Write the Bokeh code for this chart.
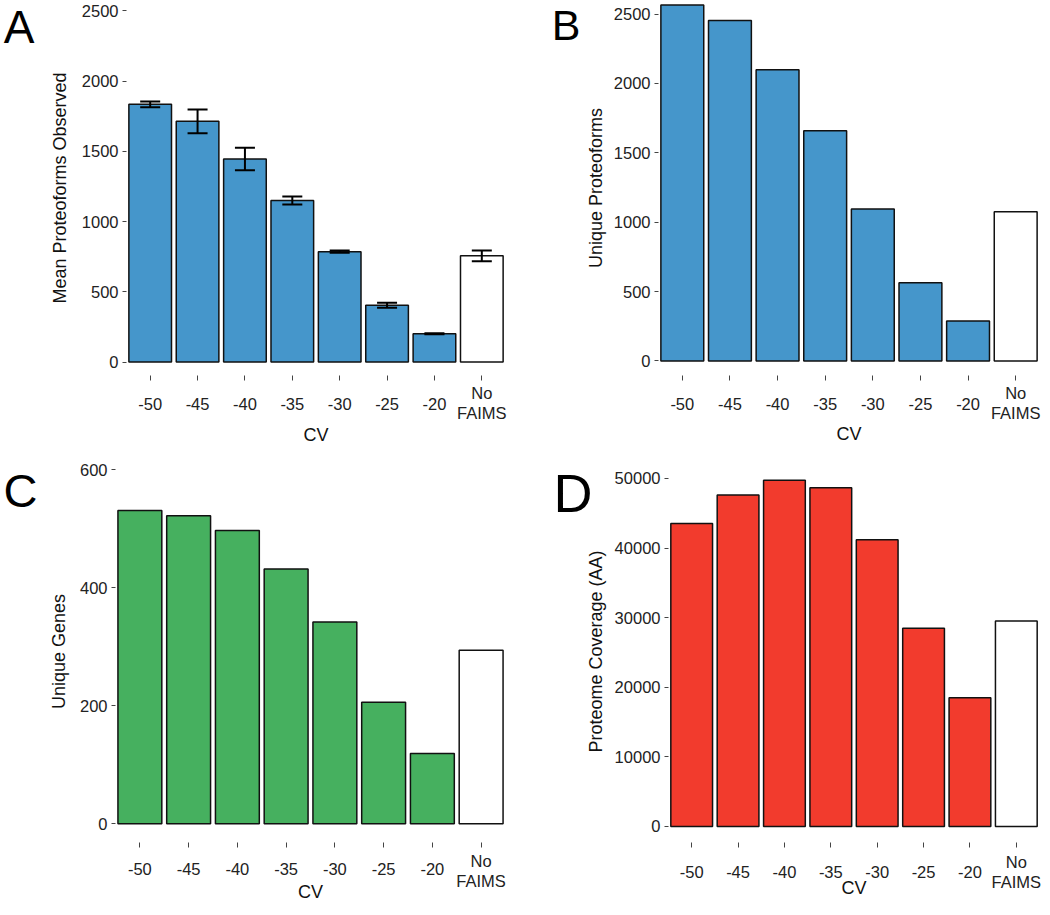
import math
from bokeh.plotting import figure
from bokeh.models import (ColumnDataSource, FactorRange, Range1d, Whisker, TeeHead,
                          CategoricalAxis, LinearAxis, FixedTicker, CustomJSTickFormatter)
from bokeh.layouts import column, row
from bokeh.embed import file_html
from bokeh.resources import INLINE

# ---------------- data ----------------
categories = ["-50", "-45", "-40", "-35", "-30", "-25", "-20", "No\nFAIMS"]
x_title = "CV"

mean_proteoforms = [1834, 1713, 1445, 1150, 785, 404, 201, 756]
mean_proteoforms_err = [20, 84, 80, 28, 8, 17, 3, 38]
unique_proteoforms = [2565, 2454, 2098, 1659, 1095, 564, 289, 1076]
unique_genes = [531, 522, 497, 432, 342, 206, 119, 294]
proteome_coverage = [43540, 47630, 49750, 48660, 41180, 28490, 18480, 29530]

ticks_A = [0, 500, 1000, 1500, 2000, 2500]
ticks_B = [0, 500, 1000, 1500, 2000, 2500]
ticks_C = [0, 200, 400, 600]
ticks_D = [0, 10000, 20000, 30000, 40000, 50000]

# ---------------- style ----------------
BLUE = "#4596CB"
GREEN = "#46B05F"
RED = "#F23B2D"
FONT = "Liberation Sans"
TICK_TEXT = "#222222"
TICK_LINE = "#444444"
TICK_PX = 16.5
TITLE_PX = 18.0
LINE_H = 1.125

# measured extents of the stacked bottom axes (px)
E1 = 38.5                 # two-line tick label axis
E2 = 29.5                 # one-line tick label axis
A1 = 0.547 * TICK_PX      # label box top -> cap centre
A_CV = 10.0
H_CV = 31.0
X_TICK = 5

multi_only = CustomJSTickFormatter(code="return tick.indexOf('\\n') >= 0 ? tick : '';")
single_only = CustomJSTickFormatter(code="return tick.indexOf('\\n') >= 0 ? '' : tick;")


def style_axis(ax, tick_out, tick_color, size=TICK_PX):
    ax.axis_line_color = None
    ax.major_tick_in = 0
    ax.major_tick_out = tick_out
    ax.major_tick_line_color = tick_color
    ax.minor_tick_line_color = None
    ax.major_label_text_font = FONT
    ax.major_label_text_font_size = f"{size}px"
    ax.major_label_text_color = TICK_TEXT


def make_panel(letter, values, fill, ylabel, yticks, width, height,
               fl, fr, fb, zero_y, px_per_unit, x_offs, title_standoff,
               letter_cy, letter_standoff, letter_px, errors=None):
    y_start = -(fb - zero_y) / px_per_unit
    y_end = zero_y / px_per_unit
    border_bottom = height - fb
    p = figure(width=width, height=height,
               x_range=FactorRange(factors=categories, range_padding=0),
               y_range=Range1d(y_start, y_end),
               output_backend="svg", toolbar_location=None,
               min_border_left=fl, min_border_right=width - fr,
               min_border_top=0, min_border_bottom=border_bottom)
    p.background_fill_color = "white"
    p.border_fill_color = "white"
    p.outline_line_color = None
    p.xgrid.grid_line_color = None
    p.ygrid.grid_line_color = None

    data = dict(cat=categories, val=values,
                color=[fill] * (len(categories) - 1) + ["#FFFFFF"])
    if errors is not None:
        data["upper"] = [v + e for v, e in zip(values, errors)]
        data["lower"] = [v - e for v, e in zip(values, errors)]
    src = ColumnDataSource(data)
    p.vbar(x="cat", top="val", bottom=0, width=0.9, source=src,
           fill_color="color", line_color="#111111", line_width=1.5)
    if errors is not None:
        p.add_layout(Whisker(base="cat", upper="upper", lower="lower", source=src,
                             level="overlay", line_color="black", line_width=2,
                             upper_head=TeeHead(size=20, line_color="black", line_width=2),
                             lower_head=TeeHead(size=20, line_color="black", line_width=2)))

    # ---- y axis ----
    ya = p.yaxis[0]
    style_axis(ya, 4, TICK_LINE)
    ya.ticker = FixedTicker(ticks=yticks)
    ya.major_label_standoff = 4
    ya.axis_label = ylabel
    ya.axis_label_text_font = FONT
    ya.axis_label_text_font_size = f"{TITLE_PX}px"
    ya.axis_label_text_font_style = "normal"
    ya.axis_label_text_color = "#111111"
    ya.axis_label_standoff = title_standoff

    # ---- panel letter: the label of an outer left axis ----
    lv = int(round((zero_y - letter_cy) / px_per_unit))
    la = LinearAxis(ticker=FixedTicker(ticks=[lv]),
                    major_label_overrides={lv: letter, str(lv): letter})
    style_axis(la, 0, None)
    la.major_label_standoff = letter_standoff
    la.major_label_text_font_size = f"{letter_px}px"
    la.major_label_text_color = "black"
    p.add_layout(la, "left")

    # ---- x axes: two-line names (with ticks), one-line names, then the title ----
    t_no, t_single, t_cv = x_offs
    xa = p.xaxis[0]
    style_axis(xa, X_TICK, TICK_LINE)
    xa.formatter = multi_only
    xa.major_label_text_line_height = LINE_H
    s1 = int(round(t_no - X_TICK - A1))
    xa.major_label_standoff = s1
    c1 = X_TICK + s1 + E1

    x2 = CategoricalAxis(formatter=single_only)
    style_axis(x2, 0, None)
    s2 = int(round(t_single - c1 - A1))
    x2.major_label_standoff = s2
    c2 = c1 + s2 + E2
    p.add_layout(x2, "below")

    # axis title as the single factor of a one-factor range spanning the frame
    p.extra_x_ranges = {"title": FactorRange(factors=[x_title], range_padding=0)}
    x3 = CategoricalAxis(x_range_name="title")
    style_axis(x3, 0, None, TITLE_PX)
    x3.major_label_text_color = "#111111"
    s3 = int(round(t_cv - c2 - A_CV))
    s3 = min(s3, math.floor(border_bottom - 1 - c2 - H_CV))
    x3.major_label_standoff = s3
    p.add_layout(x3, "below")
    return p


TOP_H, BOT_H = 460, 455

pA = make_panel("A", mean_proteoforms, BLUE, "Mean Proteoforms Observed", ticks_A,
                520, TOP_H, 119, 505, 375, 361.5, 351.2 / 2500,
                (17.5, 28.2, 59.0), 9, 26.5, 12, 46, errors=mean_proteoforms_err)
pB = make_panel("B", unique_proteoforms, BLUE, "Unique Proteoforms", ticks_B,
                530, TOP_H, 138, 519, 380, 365.3, 351.6 / 2500,
                (17.5, 28.7, 60.5), 5, 25.0, 2, 43)
pC = make_panel("C", unique_genes, GREEN, "Unique Genes", ticks_C,
                520, BOT_H, 108, 505, 382, 363.3, 354.0 / 600,
                (17.7, 26.3, 46.3), 8, 29.7, 8, 47)
pD = make_panel("D", proteome_coverage, RED, "Proteome Coverage (AA)", ticks_D,
                530, BOT_H, 148, 519, 389, 372.7, 354.4 / 50000,
                (19.3, 29.3, 57.7), 6, 33.0, -10, 54)

layout = column(row(pA, pB), row(pC, pD))
open("out.html", "w").write(file_html(layout, INLINE))
